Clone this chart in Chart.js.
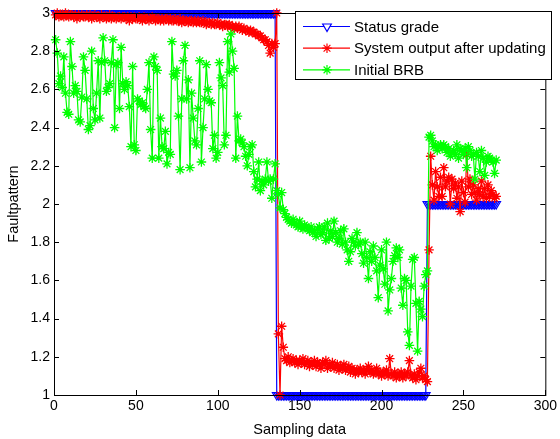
<!DOCTYPE html>
<html>
<head>
<meta charset="utf-8">
<script src="https://cdn.jsdelivr.net/npm/chart.js@4.4.1/dist/chart.umd.min.js"></script>
<style>
html, body { margin: 0; padding: 0; background: #fff; }
</style>
</head>
<body>
<canvas id="c1" width="560" height="439"></canvas>
<script>
// tick values
var xTicks = [0, 50, 100, 150, 200, 250, 300];
var yTicks = [1, 1.2, 1.4, 1.6, 1.8, 2, 2.2, 2.4, 2.6, 2.8, 3];

// Status grade (samples 1..270)
var statusGrade = [
3,3,3,3,3,3,3,3,3,3, 3,3,3,3,3,3,3,3,3,3, 3,3,3,3,3,3,3,3,3,3,
3,3,3,3,3,3,3,3,3,3, 3,3,3,3,3,3,3,3,3,3, 3,3,3,3,3,3,3,3,3,3,
3,3,3,3,3,3,3,3,3,3, 3,3,3,3,3,3,3,3,3,3, 3,3,3,3,3,3,3,3,3,3,
3,3,3,3,3,3,3,3,3,3, 3,3,3,3,3,3,3,3,3,3, 3,3,3,3,3,3,3,3,3,3,
3,3,3,3,3,3,3,3,3,3, 3,3,3,3,3,1,1,1,1,1,
1,1,1,1,1,1,1,1,1,1, 1,1,1,1,1,1,1,1,1,1, 1,1,1,1,1,1,1,1,1,1,
1,1,1,1,1,1,1,1,1,1, 1,1,1,1,1,1,1,1,1,1, 1,1,1,1,1,1,1,1,1,1,
1,1,1,1,1,1,1,1,1,1, 1,1,1,1,1,1,1,1,1,1,
1,1,1,1,1,1,1,2,2,2,
2,2,2,2,2,2,2,2,2,2, 2,2,2,2,2,2,2,2,2,2, 2,2,2,2,2,2,2,2,2,2,
2,2,2,2,2,2,2,2,2,2
];

// System output after updating
var systemOutput = [
2.99,3.00,2.98,2.99,2.99,2.98,3.00,2.99,2.98,2.99,
2.99,2.98,2.99,2.97,2.99,2.98,2.99,2.98,2.98,2.99,
2.98,2.99,2.97,2.98,2.99,2.98,2.98,2.97,2.99,2.98,
2.98,2.97,2.98,2.99,2.97,2.98,2.98,2.97,2.98,2.98,
2.97,2.98,2.98,2.97,2.98,2.96,2.98,2.97,2.98,2.97,
2.97,2.98,2.97,2.96,2.98,2.97,2.97,2.96,2.97,2.98,
2.97,2.96,2.97,2.97,2.96,2.97,2.96,2.97,2.97,2.96,
2.97,2.96,2.96,2.97,2.96,2.96,2.97,2.95,2.96,2.96,
2.96,2.95,2.96,2.96,2.95,2.96,2.95,2.96,2.95,2.95,
2.96,2.95,2.94,2.95,2.95,2.94,2.95,2.94,2.94,2.95,
2.94,2.94,2.93,2.94,2.94,2.93,2.94,2.93,2.93,2.92,
2.93,2.92,2.93,2.92,2.91,2.92,2.91,2.91,2.90,2.91,
2.90,2.90,2.89,2.89,2.88,2.88,2.87,2.86,2.86,2.85,
2.83,2.79,2.84,2.82,2.84,3.00,1.32,1.00,1.36,1.25,
1.19,1.18,1.20,1.17,1.18,1.19,1.17,1.18,1.16,1.18,
1.17,1.19,1.16,1.17,1.18,1.15,1.17,1.16,1.18,1.15,
1.17,1.16,1.14,1.17,1.16,1.18,1.14,1.16,1.15,1.17,
1.14,1.15,1.16,1.13,1.15,1.14,1.16,1.13,1.14,1.15,
1.12,1.14,1.13,1.11,1.13,1.12,1.14,1.12,1.13,1.11,
1.13,1.15,1.12,1.13,1.11,1.12,1.14,1.11,1.12,1.10,
1.12,1.11,1.13,1.10,1.19,1.11,1.10,1.12,1.09,1.11,
1.10,1.12,1.09,1.11,1.10,1.12,1.18,1.10,1.09,1.11,
1.08,1.10,1.12,1.14,1.09,1.10,1.08,1.07,1.76,2.25,
2.10,2.02,2.17,2.09,2.04,2.14,2.04,2.19,2.09,2.12,
2.14,2.00,2.13,2.08,2.11,2.03,2.09,1.96,2.12,2.06,
2.01,2.26,2.09,2.13,2.05,2.10,2.06,2.02,2.08,2.05,
2.12,2.04,2.08,2.03,2.10,2.04,2.07,2.05,2.03,2.04
];

// Initial BRB
var initialBRB = [
2.86,2.79,2.63,2.67,2.61,2.77,2.58,2.48,2.47,2.85,
2.72,2.58,2.62,2.59,2.44,2.43,2.56,2.77,2.70,2.55,
2.39,2.41,2.80,2.50,2.44,2.58,2.75,2.45,2.74,2.87,
2.75,2.59,2.61,2.63,2.74,2.86,2.40,2.73,2.74,2.50,
2.82,2.63,2.60,2.64,2.62,2.51,2.30,2.72,2.31,2.28,
2.55,2.54,2.52,2.53,2.51,2.50,2.60,2.74,2.39,2.24,
2.77,2.72,2.70,2.24,2.45,2.30,2.29,2.38,2.21,2.27,
2.26,2.85,2.68,2.67,2.70,2.46,2.18,2.55,2.75,2.83,
2.55,2.65,2.19,2.58,2.45,2.33,2.31,2.50,2.75,2.22,
2.40,2.55,2.73,2.60,2.54,2.53,2.29,2.36,2.24,2.27,
2.74,2.66,2.62,2.31,2.36,2.85,2.69,2.89,2.80,2.71,
2.24,2.46,2.33,2.34,2.32,2.30,2.25,2.20,2.26,2.30,
2.31,2.17,2.09,2.13,2.22,2.07,2.12,2.10,2.13,2.22,
2.12,2.13,2.03,2.13,2.21,2.07,2.05,1.98,2.06,1.97,
1.95,1.93,1.92,1.91,1.90,1.92,1.90,1.89,1.88,1.91,
1.88,1.87,1.89,1.88,1.87,1.86,1.88,1.85,1.86,1.83,
1.87,1.88,1.84,1.85,1.88,1.81,1.90,1.82,1.86,1.83,
1.91,1.85,1.80,1.82,1.86,1.79,1.87,1.80,1.76,1.70,
1.75,1.82,1.80,1.78,1.85,1.79,1.80,1.74,1.69,1.80,
1.72,1.61,1.75,1.70,1.78,1.72,1.65,1.51,1.68,1.76,
1.66,1.58,1.80,1.44,1.55,1.61,1.70,1.73,1.77,1.72,
1.76,1.56,1.47,1.61,1.60,1.33,1.26,1.57,1.71,1.72,
1.48,1.23,1.49,1.45,1.41,1.57,1.63,1.65,2.35,2.36,
2.33,2.30,2.31,2.28,2.30,2.31,2.29,2.31,2.30,2.27,
2.29,2.25,2.27,2.28,2.26,2.31,2.24,2.29,2.28,2.26,
2.29,2.19,2.30,2.28,2.25,2.26,2.13,2.27,2.25,2.17,
2.28,2.24,2.15,2.22,2.25,2.24,2.23,2.22,2.16,2.23
];

var FONT = 'Liberation Sans, Arial, Helvetica, sans-serif';

// sample numbers 1..n
var sampleNo = [];
for (var i = 0; i < statusGrade.length; i++) sampleNo.push(i + 1);

function pts(vals) {
  var out = [];
  for (var i = 0; i < vals.length; i++) out.push({x: sampleNo[i], y: vals[i]});
  return out;
}

// box, inward ticks and the legend inside the axes (matlab style)
var matlabBox = {
  id: 'matlabBox',
  afterDraw: function(chart) {
    var ctx = chart.ctx, a = chart.chartArea;
    var xs = chart.scales.x, ys = chart.scales.y;
    ctx.save();
    ctx.strokeStyle = '#000';
    ctx.lineWidth = 1;
    ctx.strokeRect(a.left + 0.5, a.top + 0.5, a.right - a.left, a.bottom - a.top);
    ctx.beginPath();
    xTicks.forEach(function(v) {
      var px = Math.round(xs.getPixelForValue(v)) + 0.5;
      ctx.moveTo(px, a.bottom); ctx.lineTo(px, a.bottom - 5);
      ctx.moveTo(px, a.top); ctx.lineTo(px, a.top + 5);
    });
    yTicks.forEach(function(v) {
      var py = Math.round(ys.getPixelForValue(v)) + 0.5;
      ctx.moveTo(a.left, py); ctx.lineTo(a.left + 5, py);
      ctx.moveTo(a.right, py); ctx.lineTo(a.right - 5, py);
    });
    ctx.stroke();

    // legend
    var lx = 295.5, ly = 11.5, lw = 256, lh = 68;
    ctx.fillStyle = '#fff';
    ctx.fillRect(lx, ly, lw, lh);
    ctx.strokeRect(lx, ly, lw, lh);
    ctx.font = '15px ' + FONT;
    ctx.textBaseline = 'middle';
    ctx.textAlign = 'left';
    chart.data.datasets.forEach(function(ds, k) {
      var ry = 26.5 + k * 21.7;
      ctx.strokeStyle = ds.borderColor;
      ctx.lineWidth = 1.2;
      ctx.beginPath();
      ctx.moveTo(303, ry); ctx.lineTo(350, ry);
      ctx.stroke();
      ctx.fillStyle = '#fff';
      Chart.helpers.drawPoint(ctx, {
        pointStyle: ds.pointStyle, rotation: ds.pointRotation || 0,
        radius: ds.pointRadius, borderWidth: 1.2
      }, 327, ry);
      ctx.fillStyle = '#000';
      ctx.fillText(ds.label, 354, ry + 1);
    });
    ctx.restore();
  }
};

var ctx = document.getElementById('c1').getContext('2d');
var chart1 = new Chart(ctx, {
  type: 'line',
  data: {
    datasets: [{
      label: 'Status grade',
      data: pts(statusGrade),
      borderColor: 'rgb(0,0,255)',
      borderWidth: 1.2,
      pointStyle: 'triangle',
      pointRotation: 180,
      pointRadius: 5,
      pointBorderWidth: 1.2,
      pointBorderColor: 'rgb(0,0,255)',
      pointBackgroundColor: 'rgba(0,0,0,0)',
      order: 2,
      clip: false
    }, {
      label: 'System output after updating',
      data: pts(systemOutput),
      borderColor: 'rgb(255,0,0)',
      borderWidth: 1.2,
      pointStyle: 'star',
      pointRadius: 4.8,
      pointBorderWidth: 1.3,
      pointBorderColor: 'rgb(255,0,0)',
      order: 1,
      clip: false
    }, {
      label: 'Initial BRB',
      data: pts(initialBRB),
      borderColor: 'rgb(0,255,0)',
      borderWidth: 1.2,
      pointStyle: 'star',
      pointRadius: 4.8,
      pointBorderWidth: 1.3,
      pointBorderColor: 'rgb(0,255,0)',
      order: 0,
      clip: false
    }]
  },
  options: {
    responsive: false,
    devicePixelRatio: 1,
    animation: false,
    layout: { padding: { top: 13, right: 13, left: 0, bottom: 0 } },
    plugins: { legend: { display: false }, tooltip: { enabled: false } },
    elements: { line: { tension: 0 } },
    scales: {
      x: {
        type: 'linear', min: 0, max: 300,
        afterBuildTicks: function(s) { s.ticks = xTicks.map(function(v) { return {value: v}; }); },
        afterFit: function(s) { s.height = 44; },
        grid: { display: false, drawTicks: false },
        border: { display: false },
        ticks: { color: '#000', font: { family: FONT, size: 14 }, padding: 3, maxRotation: 0, autoSkip: false },
        title: { display: true, text: 'Sampling data', color: '#000', font: { family: FONT, size: 14.5 }, padding: { top: 3, bottom: 0 } }
      },
      y: {
        type: 'linear', min: 1, max: 3,
        afterBuildTicks: function(s) { s.ticks = yTicks.map(function(v) { return {value: v}; }); },
        afterFit: function(s) { s.width = 54; },
        grid: { display: false, drawTicks: false },
        border: { display: false },
        ticks: { color: '#000', font: { family: FONT, size: 14 }, padding: 4, autoSkip: false,
          callback: function(v) { return String(v); } },
        title: { display: true, text: 'Faultpattern', color: '#000', font: { family: FONT, size: 14.5 }, padding: { top: 5, bottom: 0 } }
      }
    }
  },
  plugins: [matlabBox]
});
</script>
</body>
</html>
